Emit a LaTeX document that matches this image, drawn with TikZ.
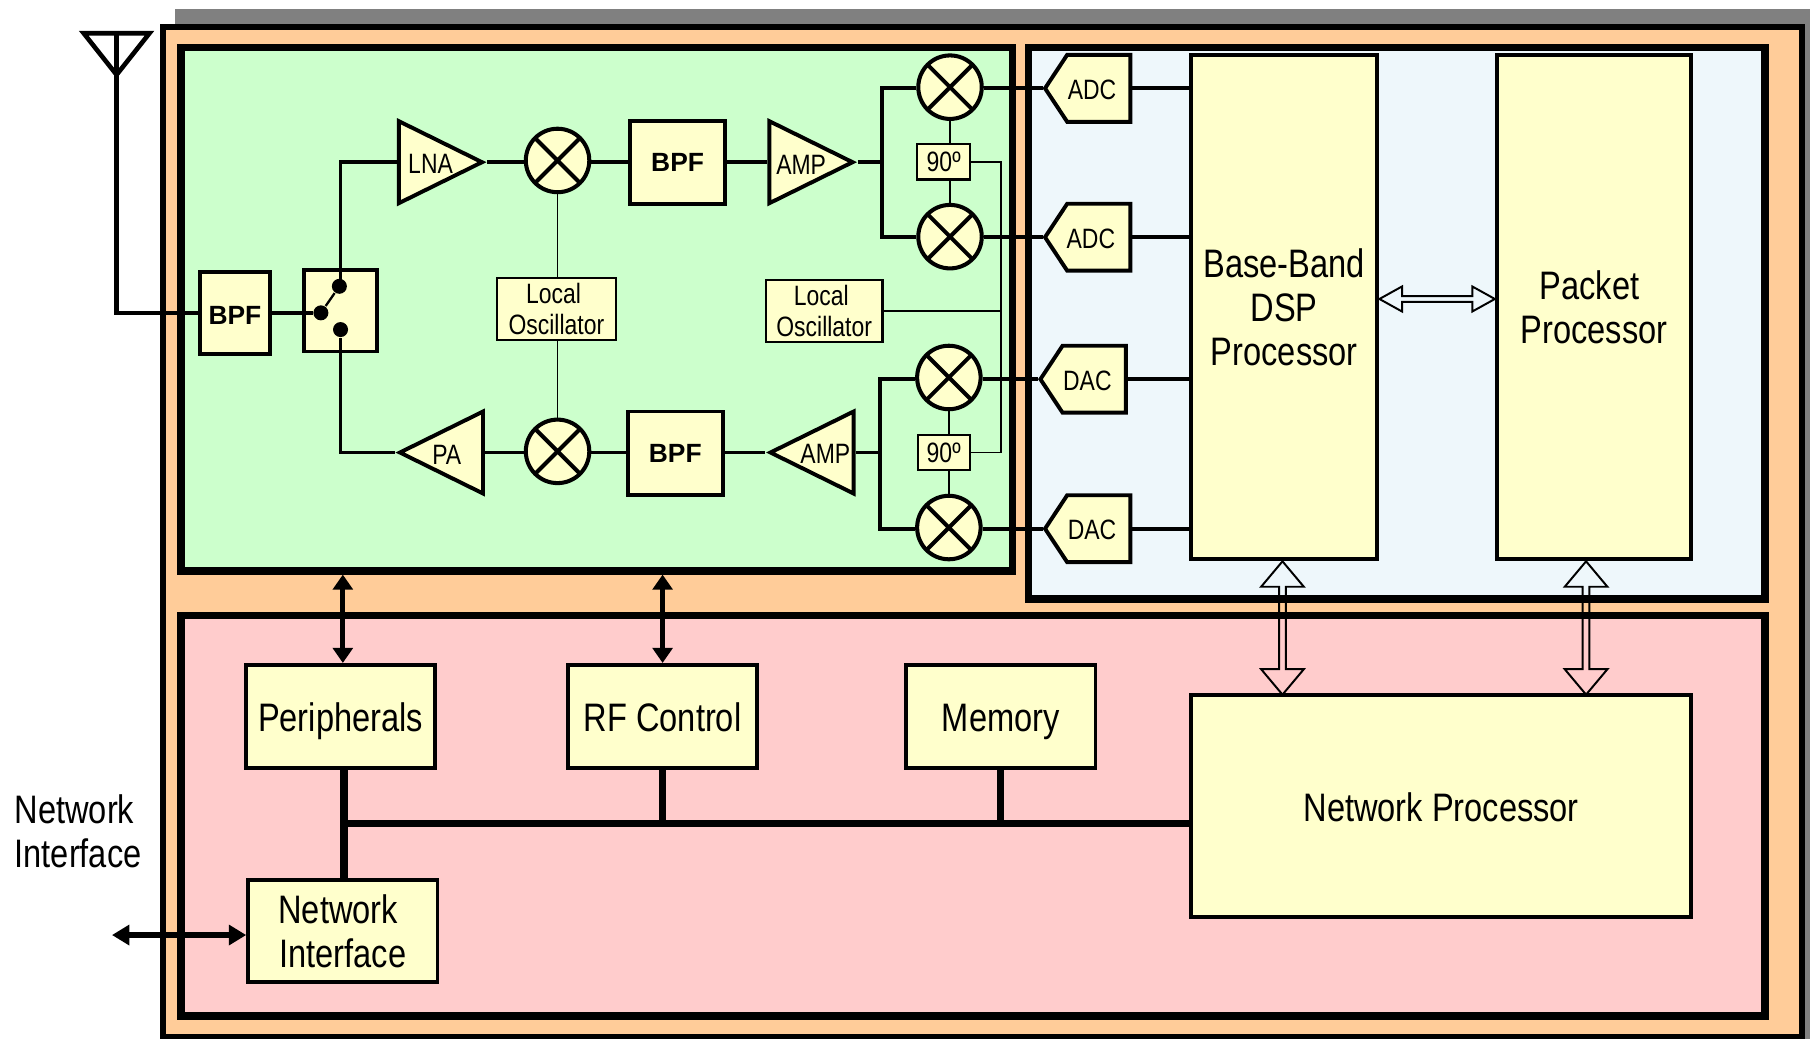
\documentclass[tikz,border=0pt]{standalone}
\usepackage{fontspec}
\setmainfont[FakeStretch=0.82]{Liberation Sans}
\newfontfamily\widefont{Liberation Sans}
\usetikzlibrary{shapes.geometric,shapes.symbols,shapes.arrows,arrows.meta}
\definecolor{boardorange}{HTML}{FFCC99}
\definecolor{rfgreen}{HTML}{CCFFCC}
\definecolor{dspblue}{HTML}{EEF7FB}
\definecolor{hostpink}{HTML}{FFCCCC}
\definecolor{chipyellow}{HTML}{FFFFCC}
\newcommand\bigsize{\fontsize{9.8}{10.9}\selectfont}
\newcommand\smallsize{\fontsize{6.9}{7.6}\selectfont}
\newcommand\bpfsize{\widefont\bfseries\fontsize{6.5}{7.5}\selectfont}
\tikzset{
  region/.style={rectangle,draw=black,line width=0.065cm,inner sep=0pt},
  block/.style={rectangle,draw=black,fill=chipyellow,line width=0.034cm,inner sep=0pt,align=center,font=\bigsize},
  oneline/.style={text height=9.6pt,text depth=2pt},
  filterbox/.style={block,font=\bpfsize},
  tinybox/.style={block,line width=0.018cm,font=\smallsize},
  mixer/.style={circle,draw=black,fill=chipyellow,line width=0.035cm,inner sep=0pt,minimum size=0.55cm,
    path picture={\draw[line width=0.035cm] (path picture bounding box.north west) -- (path picture bounding box.south east)
      (path picture bounding box.north east) -- (path picture bounding box.south west);}},
  amptri/.style={isosceles triangle,isosceles triangle stretches,draw=black,fill=chipyellow,line width=0.034cm,inner sep=0pt,minimum width=0.71cm,minimum height=0.72cm},
  converter/.style={signal,signal to=west,signal pointer angle=113,draw=black,fill=chipyellow,line width=0.034cm,inner sep=0pt,minimum width=0.74cm,minimum height=0.58cm,anchor=east},
  swdot/.style={circle,fill=black,inner sep=0pt,minimum size=0.13cm},
  label text/.style={inner sep=0pt,font=\smallsize},
  wire/.style={line width=0.034cm},
  thinwire/.style={line width=0.016cm},
  bus/.style={line width=0.063cm},
  ctrl/.style={{Triangle[length=0.13cm,width=0.17cm]}-{Triangle[length=0.13cm,width=0.17cm]},line width=0.045cm},
  dataarrow/.style={double arrow,draw=black,line width=0.017cm,inner sep=0pt,double arrow head extend=0.045cm,double arrow tip angle=80,minimum width=0.37cm},
}
\begin{document}
\begin{tikzpicture}[x=1cm,y=-1cm,font=\bigsize]
\useasboundingbox (0,0) rectangle (15.68,9.00);
\fill[gray] (1.52,0.08) rectangle (15.68,9.00);
\node[region,line width=0.05cm,fill=boardorange,minimum width=14.20cm,minimum height=8.745cm] (board) at (8.51,4.6075) {};
\node[region,fill=rfgreen,minimum width=7.20cm,minimum height=4.535cm] (rfblock) at (5.17,2.6775) {};
\node[region,fill=dspblue,minimum width=6.38cm,minimum height=4.78cm] (dspblock) at (12.10,2.80) {};
\node[region,fill=hostpink,minimum width=13.72cm,minimum height=3.47cm] (hostblock) at (8.43,7.065) {};
\node[isosceles triangle,isosceles triangle stretches,shape border rotate=-90,draw=black,line width=0.04cm,inner sep=0pt,minimum width=0.57cm,minimum height=0.36cm,anchor=apex] (antenna) at (1.01,0.70) {};
\node[filterbox,minimum width=0.60cm,minimum height=0.71cm,text height=5.6pt] (bpfin) at (2.035,2.71) {BPF};
\node[block,minimum width=0.63cm,minimum height=0.71cm] (switch) at (2.95,2.69) {};
\node[swdot] (swup) at (2.94,2.48) {};
\node[swdot] (swin) at (2.78,2.71) {};
\node[swdot] (swdn) at (2.95,2.855) {};
\node[amptri,anchor=apex] (lna) at (4.22,1.405) {};
\node[label text] (lnatext) at (3.73,1.42) {LNA};
\node[mixer] (mixa) at (4.83,1.39) {};
\node[filterbox,minimum width=0.82cm,minimum height=0.72cm] (bpfa) at (5.87,1.405) {BPF};
\node[amptri,anchor=apex] (ampa) at (7.43,1.405) {};
\node[label text] (ampatext) at (6.94,1.43) {AMP};
\node[tinybox,minimum width=1.03cm,minimum height=0.54cm] (loa) at (4.82,2.675) {Local\hspace{0.05cm}\mbox{}\\Oscillator};
\node[amptri,shape border rotate=180,anchor=apex] (pa) at (3.42,3.92) {};
\node[label text] (patext) at (3.87,3.94) {PA};
\node[mixer] (mixb) at (4.83,3.91) {};
\node[filterbox,minimum width=0.82cm,minimum height=0.72cm] (bpfb) at (5.85,3.925) {BPF};
\node[amptri,shape border rotate=180,anchor=apex] (ampb) at (6.63,3.92) {};
\node[label text] (ampbtext) at (7.15,3.93) {AMP};
\node[tinybox,minimum width=1.01cm,minimum height=0.54cm] (lob) at (7.14,2.695) {Local\hspace{0.05cm}\mbox{}\\Oscillator};
\coordinate (brau) at (7.64,1.405);
\coordinate (brad) at (7.62,3.92);
\node[mixer] (mixu) at (8.23,0.755) {};
\node[mixer] (mixv) at (8.23,2.05) {};
\node[mixer] (mixw) at (8.22,3.27) {};
\node[mixer] (mixx) at (8.22,4.57) {};
\node[tinybox,minimum width=0.46cm,minimum height=0.31cm] (phu) at (8.175,1.40) {90º};
\node[tinybox,minimum width=0.45cm,minimum height=0.31cm] (phd) at (8.175,3.92) {90º};
\coordinate (lojoin) at (8.67,2.70);
\node[converter] (adcu) at (9.81,0.765) {};
\node[label text] (adcutext) at (9.46,0.78) {ADC};
\node[converter] (adcv) at (9.81,2.055) {};
\node[label text] (adcvtext) at (9.45,2.07) {ADC};
\node[converter] (dacu) at (9.77,3.285) {};
\node[label text] (dacutext) at (9.42,3.30) {DAC};
\node[converter] (dacv) at (9.81,4.58) {};
\node[label text] (dacvtext) at (9.46,4.59) {DAC};
\node[block,minimum width=1.61cm,minimum height=4.36cm] (baseband) at (11.125,2.66) {Base-Band\\DSP\\Processor};
\node[block,minimum width=1.68cm,minimum height=4.36cm] (packet) at (13.81,2.66) {Packet\hspace{0.08cm}\mbox{}\\Processor};
\node[block,oneline,minimum width=4.33cm,minimum height=1.92cm] (netproc) at (12.485,6.98) {Network Processor};
\node[block,oneline,minimum width=1.64cm,minimum height=0.89cm] (periph) at (2.95,6.205) {Peripherals};
\node[block,oneline,minimum width=1.64cm,minimum height=0.89cm] (rfctl) at (5.74,6.205) {RF Control};
\node[block,oneline,minimum width=1.64cm,minimum height=0.89cm] (memory) at (8.67,6.205) {Memory};
\node[block,minimum width=1.64cm,minimum height=0.89cm] (netif) at (2.97,8.065) {Network\hspace{0.08cm}\mbox{}\\Interface};
\node[inner sep=0pt,align=left,anchor=west] (extlabel) at (0.12,7.20) {Network\\Interface};
\coordinate (netfree) at (0.97,8.10);
\coordinate (busleft) at (2.98,7.135);
\draw[wire,line width=0.04cm] (antenna.lower side) -- (antenna.lower side |- bpfin.west) -- (bpfin.west);
\draw[wire] (bpfin.east) -- (swin);
\draw[thinwire,line width=0.02cm] (swin) -- (swup);
\draw[wire] (switch.north |- swup) |- (lna.lower side);
\draw[wire] (swdn.south) |- (pa.apex);
\draw[wire] (lna.apex) -- (mixa.west |- lna.apex);
\draw[wire] (mixa.east |- bpfa.west) -- (bpfa.west);
\draw[wire] (bpfa.east) -- (ampa.lower side);
\draw[wire] (ampa.apex) -- (brau);
\draw[wire] (mixu.west |- adcu.west) -| (brau) |- (mixv.west |- adcv.west);
\draw[wire] (pa.lower side) -- (mixb.west |- pa.lower side);
\draw[wire] (mixb.east |- pa.lower side) -- (bpfb.west |- pa.lower side);
\draw[wire] (bpfb.east |- ampb.apex) -- (ampb.apex);
\draw[wire] (ampb.lower side) -- (brad);
\draw[wire] (mixw.west |- dacu.west) -| (brad) |- (mixx.west |- dacv.west);
\draw[thinwire] (mixa.south) -- (mixa.south |- loa.north);
\draw[thinwire] (mixb.north) -- (mixb.north |- loa.south);
\draw[thinwire] (mixu.south) -- (mixu.south |- phu.north);
\draw[thinwire] (mixv.north) -- (mixv.north |- phu.south);
\draw[thinwire] (mixw.south) -- (mixw.south |- phd.north);
\draw[thinwire] (mixx.north) -- (mixx.north |- phd.south);
\draw[thinwire] (phu.east) -| (lojoin) |- (phd.east);
\draw[thinwire] (lob.east) -- (lob.east -| lojoin);
\draw[wire] (mixu.east |- adcu.west) -- (adcu.west);
\draw[wire] (mixv.east |- adcv.west) -- (adcv.west);
\draw[wire] (mixw.east |- dacu.west) -- (dacu.west);
\draw[wire] (mixx.east |- dacv.west) -- (dacv.west);
\draw[wire] (adcu.east) -- (adcu.east -| baseband.west);
\draw[wire] (adcv.east) -- (adcv.east -| baseband.west);
\draw[wire] (dacu.east) -- (dacu.east -| baseband.west);
\draw[wire] (dacv.east) -- (dacv.east -| baseband.west);
\draw[ctrl] ([xshift=0.02cm]periph.north) -- ([xshift=0.02cm]periph.north |- rfblock.south);
\draw[ctrl] (rfctl.north) -- (rfctl.north |- rfblock.south);
\draw[ctrl,{Triangle[length=0.15cm,width=0.17cm]}-{Triangle[length=0.15cm,width=0.17cm]}] (netfree) -- (netfree -| netif.west);
\draw[bus] ([xshift=0.03cm]periph.south) -- ([xshift=0.03cm]periph.south |- netif.north);
\draw[bus] (busleft) -- (busleft -| netproc.west);
\draw[bus] (rfctl.south) -- (rfctl.south |- busleft);
\draw[bus] (memory.south) -- (memory.south |- busleft);
\node[dataarrow,double arrow head extend=0.028cm,double arrow tip angle=58,minimum width=0.217cm,minimum height=1.00cm] (dspbus) at (12.45,2.59) {};
\node[dataarrow,rotate=90,minimum height=1.155cm] (dspnet) at (11.11,5.44) {};
\node[dataarrow,rotate=90,minimum height=1.155cm] (pktnet) at (13.74,5.44) {};
\end{tikzpicture}
\end{document}
